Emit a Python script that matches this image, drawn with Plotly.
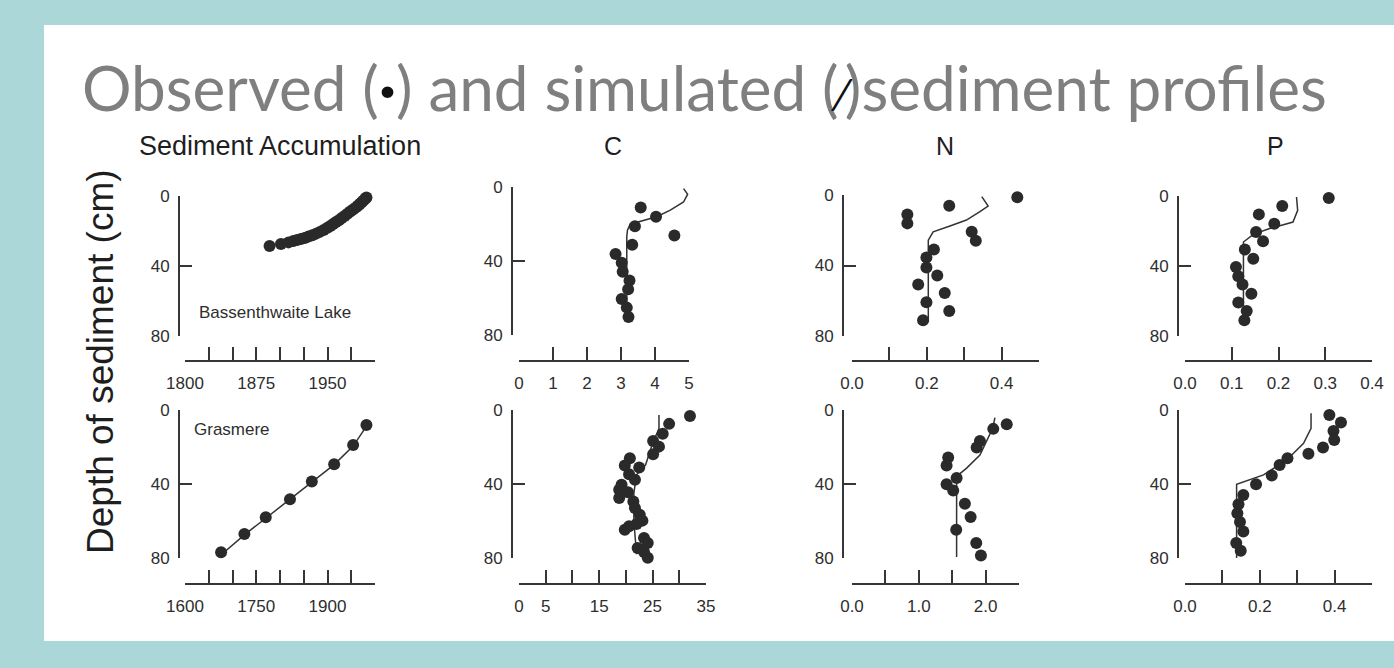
import plotly.graph_objects as go

W, H = 1394, 668

# ---------------- data ----------------
# Bassenthwaite Lake (top row)
sa_bass_year = [1889, 1901, 1909, 1914, 1918, 1922, 1926, 1930, 1934, 1938, 1942, 1946, 1950,
                1953, 1956, 1959, 1962, 1965, 1968, 1971, 1974, 1977, 1980, 1982, 1984, 1986,
                1988, 1990, 1991]
sa_bass_depth = [28.6, 27.4, 26.5, 25.7, 25.2, 24.6, 24.0, 23.2, 22.4, 21.5, 20.5, 19.4, 18.1,
                 17.1, 16.0, 14.9, 13.8, 12.6, 11.4, 10.1, 8.9, 7.7, 6.5, 5.6, 4.6, 3.6,
                 2.5, 1.4, 0.8]

c_bass_obs = [5.14, 3.58, 4.03, 3.41, 4.57, 3.33, 2.84, 3.02, 3.05, 3.25, 3.21, 3.02, 3.17, 3.22]
c_bass_obs_depth = [6.3, 11.1, 16.1, 21.2, 26.2, 31.2, 36.2, 40.9, 45.8, 50.6, 55.3, 60.6, 65.2, 70.3]
c_bass_sim = [4.84, 4.96, 4.84, 4.45, 4.05, 3.56, 3.27, 3.19, 3.17, 3.17]
c_bass_sim_depth = [0.9, 3.9, 8.1, 12.5, 16.1, 18.8, 20.1, 23.3, 26.9, 70.0]

n_bass_obs = [0.442, 0.26, 0.148, 0.148, 0.32, 0.331, 0.219, 0.199, 0.199, 0.228, 0.177, 0.248,
              0.199, 0.26, 0.19]
n_bass_obs_depth = [1.3, 6.1, 11.0, 16.1, 20.9, 26.0, 30.9, 35.5, 41.1, 45.7, 50.8, 55.6, 60.9,
                    65.8, 71.1]
n_bass_sim = [0.347, 0.364, 0.342, 0.306, 0.262, 0.217, 0.204, 0.204]
n_bass_sim_depth = [0.9, 6.3, 9.5, 14.2, 17.6, 20.9, 25.6, 72.0]

p_bass_obs = [0.3075, 0.208, 0.158, 0.191, 0.152, 0.167, 0.128, 0.146, 0.109, 0.114, 0.123,
              0.142, 0.114, 0.132, 0.127]
p_bass_obs_depth = [1.1, 5.7, 10.5, 15.8, 20.6, 25.9, 30.6, 35.8, 40.6, 45.9, 50.6, 55.8, 60.9,
                    65.7, 71.0]
p_bass_sim = [0.2385, 0.241, 0.231, 0.181, 0.146, 0.125, 0.125]
p_bass_sim_depth = [0.6, 8.2, 14.9, 18.6, 21.9, 26.3, 72.0]

# Grasmere (bottom row)
sa_gras_year = [1676, 1725, 1770, 1821, 1867, 1914, 1954, 1982]
sa_gras_depth = [76.9, 67.0, 58.0, 48.2, 38.6, 29.3, 18.9, 8.1]
sa_gras_sim_year = [1670, 1725, 1770, 1821, 1867, 1914, 1954, 1980]
sa_gras_sim_depth = [79.6, 67.5, 58.5, 48.5, 39.0, 29.5, 19.5, 9.5]

c_gras_obs = [32.0, 28.1, 26.9, 25.1, 26.2, 25.1, 20.75, 19.8, 22.5, 20.6, 21.7, 19.2, 18.75,
              20.4, 18.75, 21.4, 21.7, 22.6, 23.1, 22.0, 19.8, 20.6, 23.4, 24.1, 22.2, 23.4, 24.1]
c_gras_obs_depth = [3.2, 7.5, 12.9, 16.7, 19.8, 23.9, 26.1, 30.0, 31.1, 34.7, 37.7, 40.4, 43.1,
                    44.4, 47.6, 49.4, 53.0, 56.6, 59.8, 61.6, 64.7, 62.9, 69.2, 71.9, 74.6, 76.7, 79.9]
c_gras_sim = [26.2, 26.2, 25.0, 23.7, 22.0, 21.5, 21.5, 22.0]
c_gras_sim_depth = [2.7, 10.0, 18.0, 29.6, 35.0, 45.0, 60.0, 78.0]

n_gras_obs = [2.66, 2.68, 2.316, 2.115, 1.915, 1.866, 1.44, 1.416, 1.566, 1.416, 1.515, 1.69,
              1.776, 1.56, 1.86, 1.93]
n_gras_obs_depth = [3.0, 5.0, 7.7, 10.2, 16.7, 20.3, 25.7, 30.0, 36.8, 40.1, 43.5, 50.7, 57.8,
                    64.7, 71.9, 78.7]
n_gras_sim = [2.14, 2.106, 1.915, 1.716, 1.566, 1.566]
n_gras_sim_depth = [4.1, 9.9, 24.3, 31.4, 35.9, 79.4]

p_gras_obs = [0.386, 0.417, 0.397, 0.399, 0.369, 0.330, 0.274, 0.253, 0.232, 0.190, 0.156,
              0.143, 0.140, 0.147, 0.156, 0.137, 0.149, 0.156]
p_gras_obs_depth = [2.7, 6.7, 11.3, 16.2, 20.3, 23.7, 26.1, 29.7, 35.4, 40.1, 45.9, 50.9, 55.8,
                    60.6, 65.7, 71.9, 76.1, 80.4]
p_gras_sim = [0.337, 0.337, 0.317, 0.272, 0.210, 0.138, 0.138]
p_gras_sim_depth = [1.8, 9.9, 18.0, 27.0, 35.1, 40.1, 80.0]

depth_ticks = [0, 40, 80]
panel_titles = ["Sediment Accumulation", "C", "N", "P"]
title_text = ("Observed (<span style='color:#111'><b>·</b></span>) and simulated "
              "(<span style='color:#111;font-size:44px'>⁄</span>)sediment profiles")
ylabel_text = "Depth of sediment (cm)"

# ---------------- layout helpers ----------------
def fx(px):
    return px / W

def fy(py):
    return 1 - py / H

AX = "#363636"
DOT = "#2a2a2a"
TXT = "#2e2e2e"
FONT = "Liberation Sans, Arial, sans-serif"

# panel geometry in pixels: (yaxis line x, y0 px, y80 px, xaxis line y, x-left px, x-right px)
panels = [
    dict(yl=179, y0=196, y80=336, xl=361, xa=185, xb=375, rng=[1800, 2000],
         tv=list(range(1800, 2001, 25)), tt=["1800", "", "", "1875", "", "", "1950", "", ""]),
    dict(yl=512, y0=187, y80=335, xl=361, xa=519, xb=689, rng=[0, 5],
         tv=[0, 1, 2, 3, 4, 5], tt=["0", "1", "2", "3", "4", "5"]),
    dict(yl=843, y0=195, y80=336, xl=361, xa=852, xb=1039, rng=[0, 0.5],
         tv=[0, 0.1, 0.2, 0.3, 0.4, 0.5], tt=["0.0", "", "0.2", "", "0.4", ""]),
    dict(yl=1178, y0=196, y80=336, xl=361, xa=1185, xb=1372, rng=[0, 0.4],
         tv=[0, 0.1, 0.2, 0.3, 0.4], tt=["0.0", "0.1", "0.2", "0.3", "0.4"]),
    dict(yl=179, y0=410, y80=558, xl=584, xa=185, xb=375, rng=[1600, 2000],
         tv=list(range(1600, 2001, 50)), tt=["1600", "", "", "1750", "", "", "1900", "", ""]),
    dict(yl=512, y0=410, y80=558, xl=584, xa=519, xb=706, rng=[0, 35],
         tv=[0, 5, 10, 15, 20, 25, 30, 35], tt=["0", "5", "", "15", "", "25", "", "35"]),
    dict(yl=843, y0=410, y80=558, xl=584, xa=852, xb=1019, rng=[0, 2.5],
         tv=[0, 0.5, 1.0, 1.5, 2.0, 2.5], tt=["0.0", "", "1.0", "", "2.0", ""]),
    dict(yl=1178, y0=410, y80=558, xl=584, xa=1185, xb=1372, rng=[0, 0.5],
         tv=[0, 0.1, 0.2, 0.3, 0.4, 0.5], tt=["0.0", "", "0.2", "", "0.4", ""]),
]

series = [
    (sa_bass_year, sa_bass_depth, None, None),
    (c_bass_obs, c_bass_obs_depth, c_bass_sim, c_bass_sim_depth),
    (n_bass_obs, n_bass_obs_depth, n_bass_sim, n_bass_sim_depth),
    (p_bass_obs, p_bass_obs_depth, p_bass_sim, p_bass_sim_depth),
    (sa_gras_year, sa_gras_depth, sa_gras_sim_year, sa_gras_sim_depth),
    (c_gras_obs, c_gras_obs_depth, c_gras_sim, c_gras_sim_depth),
    (n_gras_obs, n_gras_obs_depth, n_gras_sim, n_gras_sim_depth),
    (p_gras_obs, p_gras_obs_depth, p_gras_sim, p_gras_sim_depth),
]

fig = go.Figure()
layout = {}
for i, (p, (ox, oy, sx, sy)) in enumerate(zip(panels, series), start=1):
    xa = "x" if i == 1 else f"x{i}"
    ya = "y" if i == 1 else f"y{i}"
    xkey = "xaxis" if i == 1 else f"xaxis{i}"
    ykey = "yaxis" if i == 1 else f"yaxis{i}"
    if sx is not None:
        fig.add_trace(go.Scatter(x=sx, y=sy, mode="lines", xaxis=xa, yaxis=ya,
                                 line=dict(color="#333333", width=1.5),
                                 cliponaxis=False, showlegend=False, hoverinfo="skip"))
    fig.add_trace(go.Scatter(x=ox, y=oy, mode="markers", xaxis=xa, yaxis=ya,
                             marker=dict(color=DOT, size=12, line=dict(width=0)),
                             cliponaxis=False, showlegend=False))
    layout[xkey] = dict(domain=[fx(p["xa"]), fx(p["xb"])], range=p["rng"], anchor="free",
                        position=fy(p["xl"]), showline=True, linecolor=AX, linewidth=1.7,
                        ticks="inside", ticklen=13, tickwidth=1.7, tickcolor=AX,
                        tickvals=p["tv"], ticktext=p["tt"], showgrid=False, zeroline=False,
                        automargin=False,
                        tickfont=dict(family=FONT, size=17, color=TXT), ticklabelstandoff=7)
    layout[ykey] = dict(domain=[fy(p["y80"]), fy(p["y0"])], range=[80, 0], anchor="free",
                        position=fx(p["yl"]), showline=True, linecolor=AX, linewidth=1.7,
                        ticks="inside", ticklen=12, tickwidth=1.7, tickcolor=AX,
                        tickvals=depth_ticks, showgrid=False, zeroline=False,
                        automargin=False,
                        tickfont=dict(family=FONT, size=17, color=TXT), ticklabelstandoff=5)

annotations = [
    dict(text=title_text, x=fx(80), y=fy(87), xref="paper", yref="paper", xanchor="left",
         yanchor="middle", showarrow=False,
         font=dict(family="Lato, Open Sans, sans-serif", size=62, color="#7f7f7f")),
    dict(text=ylabel_text, x=fx(100), y=fy(362), xref="paper", yref="paper", textangle=-90,
         xanchor="center", yanchor="middle", showarrow=False,
         font=dict(family=FONT, size=37, color="#1e1e1e")),
    dict(text="Bassenthwaite Lake", x=fx(197), y=fy(312), xref="paper", yref="paper",
         xanchor="left", yanchor="middle", showarrow=False,
         font=dict(family=FONT, size=17, color=TXT)),
    dict(text="Grasmere", x=fx(192), y=fy(429), xref="paper", yref="paper",
         xanchor="left", yanchor="middle", showarrow=False,
         font=dict(family=FONT, size=17, color=TXT)),
]
for t, cx, sz in zip(panel_titles, [280, 613, 945, 1275], [27, 25, 25, 25]):
    annotations.append(dict(text=t, x=fx(cx), y=fy(146), xref="paper", yref="paper",
                            xanchor="center", yanchor="middle", showarrow=False,
                            font=dict(family=FONT, size=sz, color="#1e1e1e")))

shapes = [dict(type="rect", xref="paper", yref="paper", x0=fx(44), x1=1.0, y0=fy(641), y1=fy(25),
               fillcolor="white", line=dict(width=0), layer="below")]

fig.update_layout(width=W, height=H, margin=dict(l=0, r=0, t=0, b=0, pad=0, autoexpand=False),
                  paper_bgcolor="#abd7d8", plot_bgcolor="rgba(0,0,0,0)",
                  annotations=annotations, shapes=shapes, showlegend=False, **layout)

fig.write_html("out.html", config={"displayModeBar": False},
               post_script="document.body.style.margin='0';document.body.style.overflow='hidden';")
